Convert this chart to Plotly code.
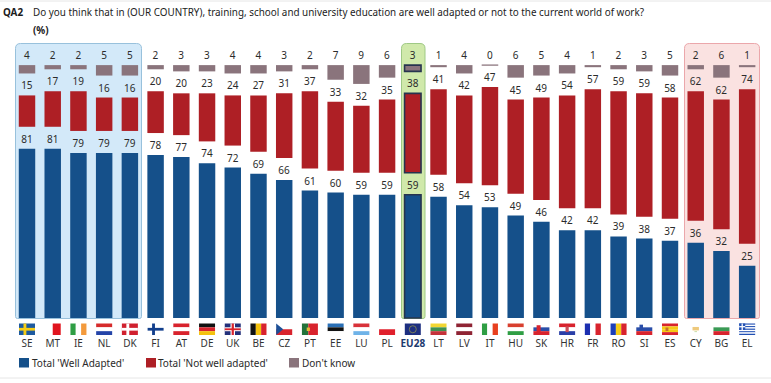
import plotly.graph_objects as go

W, H = 771, 383

countries = ["SE","MT","IE","NL","DK","FI","AT","DE","UK","BE","CZ","PT","EE","LU","PL","EU28",
             "LT","LV","IT","HU","SK","HR","FR","RO","SI","ES","CY","BG","EL"]
well_adapted = [81,81,79,79,79,78,77,74,72,69,66,61,60,59,59,59,58,54,53,49,46,42,42,39,38,37,36,32,25]
not_well_adapted = [15,17,19,16,16,20,20,23,24,27,31,37,33,32,35,38,41,42,47,45,49,54,57,59,59,58,62,62,74]
dont_know = [4,2,2,5,5,2,3,3,4,4,3,2,7,9,6,3,1,4,0,6,5,4,1,2,3,5,2,6,1]
legend_names = ["Total 'Well Adapted'", "Total 'Not well adapted'", "Don't know"]

BLUE, RED, GREY = "#15508a", "#ae1f25", "#8a747c"
OUT = "#27344f"
FONT = "Noto Sans"
TXT = "#2b2b2b"

# layout scale
X0, STEP = 27.0, 25.72
Y0, PX = 318.0, 2.09
GAP = 10.5
xr = [-X0 / STEP, (W - X0) / STEP]
yr = [-(H - Y0) / PX, Y0 / PX]

def px(x): return x / W
def py(y): return 1 - y / H

eu = countries.index("EU28")
line_w = [1.6 if i == eu else 0 for i in range(len(countries))]
line_w_grey = [1.6 if i == eu else (0.8 if v == 0 else 0) for i, v in enumerate(dont_know)]
line_c = [OUT if i == eu else GREY for i in range(len(countries))]

base_red = [w + GAP for w in well_adapted]
base_grey = [100 + 2 * GAP - d for d in dont_know]

def trace(name, y, base, color, lw):
    return go.Bar(name=name, x=list(range(len(countries))), y=y, base=base,
                  marker=dict(color=color, line=dict(width=lw, color=line_c if color != BLUE and color != RED else OUT)),
                  text=[str(v) for v in y], textposition="outside", cliponaxis=False,
                  textfont=dict(family=FONT, size=10, color=TXT), hoverinfo="skip", showlegend=False)

fig = go.Figure([
    trace(legend_names[0], well_adapted, [0] * len(countries), BLUE, line_w),
    trace(legend_names[1], not_well_adapted, base_red, RED, line_w),
    trace(legend_names[2], dont_know, base_grey, GREY, line_w_grey),
])

shapes = []

def panel(x0, x1, y0, y1, fill, border, r=5):
    p = (f"M{px(x0+r)},{py(y0)} L{px(x1-r)},{py(y0)} Q{px(x1)},{py(y0)} {px(x1)},{py(y0+r)} "
         f"L{px(x1)},{py(y1-2)} Q{px(x1)},{py(y1)} {px(x1-2)},{py(y1)} L{px(x0+2)},{py(y1)} "
         f"Q{px(x0)},{py(y1)} {px(x0)},{py(y1-2)} L{px(x0)},{py(y0+r)} Q{px(x0)},{py(y0)} {px(x0+r)},{py(y0)} Z")
    shapes.append(dict(type="path", path=p, xref="paper", yref="paper", layer="below",
                       fillcolor=fill, line=dict(color=border, width=1)))

panel(15.5, 141.5, 43.5, 318.5, "#d3e9f9", "#98c1dc")
panel(401.5, 425, 43.5, 318.5, "#d0e9ab", "#9fc985")
panel(684.5, 759.5, 43.5, 318.5, "#fae2e1", "#eba7ab")

for yy in (1, 378):
    shapes.append(dict(type="line", xref="paper", yref="paper", x0=0, x1=1, y0=py(yy), y1=py(yy),
                       layer="below", line=dict(color="#e6e6e6", width=1)))

FW, FH, FT = 16.0, 11.5, 323.5

def r(i, a, b, c, d, col):
    cx = X0 + STEP * i
    shapes.append(dict(type="rect", xref="paper", yref="paper",
                       x0=px(cx - FW / 2 + a * FW), x1=px(cx - FW / 2 + c * FW),
                       y0=py(FT + b * FH), y1=py(FT + d * FH),
                       fillcolor=col, line=dict(width=0), layer="below"))

def hs(code, cols):
    i = countries.index(code); n = len(cols)
    for k, c in enumerate(cols): r(i, 0, k / n, 1, (k + 1) / n, c)

def vs(code, cols):
    i = countries.index(code); n = len(cols)
    for k, c in enumerate(cols): r(i, k / n, 0, (k + 1) / n, 1, c)

def cross(code, bg, col):
    i = countries.index(code)
    r(i, 0, 0, 1, 1, bg)
    r(i, 0.28, 0, 0.46, 1, col); r(i, 0, 0.38, 1, 0.62, col)

cross("SE", "#1d5aa0", "#f6cd17")
cross("FI", "#ffffff", "#123f8c")
cross("DK", "#d0202e", "#ffffff")
vs("MT", ["#ffffff", "#e0141e"])
vs("IE", ["#2f9e44", "#ffffff", "#f39a3c"])
hs("NL", ["#d62b2b", "#ffffff", "#2444a8"])
hs("AT", ["#d8232d", "#ffffff", "#d8232d"])
hs("DE", ["#111111", "#d8232d", "#f4c20d"])
i = countries.index("UK")
r(i, 0, 0, 1, 1, "#23307a"); r(i, 0, 0.33, 1, 0.67, "#ffffff"); r(i, 0.36, 0, 0.64, 1, "#ffffff")
r(i, 0, 0.42, 1, 0.58, "#d8232d"); r(i, 0.43, 0, 0.57, 1, "#d8232d")
vs("BE", ["#111111", "#f4c20d", "#d8232d"])
i = countries.index("CZ")
r(i, 0, 0, 1, 0.5, "#ffffff"); r(i, 0, 0.5, 1, 1, "#d8232d")
cx = X0 + STEP * i
shapes.append(dict(type="path", xref="paper", yref="paper", layer="below", fillcolor="#1d4f96", line=dict(width=0),
                   path=f"M{px(cx-8)},{py(FT)} L{px(cx-1)},{py(FT+FH/2)} L{px(cx-8)},{py(FT+FH)} Z"))
i = countries.index("PT")
r(i, 0, 0, 0.4, 1, "#22733a"); r(i, 0.4, 0, 1, 1, "#d8232d"); r(i, 0.3, 0.35, 0.5, 0.65, "#e5b93a")
hs("EE", ["#2a6fb5", "#111111", "#ffffff"])
hs("LU", ["#d8323a", "#ffffff", "#6fb3e8"])
hs("PL", ["#ffffff", "#e0202c"])
i = countries.index("EU28")
r(i, 0, 0, 1, 1, "#1d2f80")
cx = X0 + STEP * i
shapes.append(dict(type="circle", xref="paper", yref="paper", layer="below",
                   x0=px(cx - 3.5), x1=px(cx + 3.5), y0=py(FT + 2.2), y1=py(FT + FH - 2.2),
                   line=dict(color="#8b8f52", width=0.8)))
hs("LT", ["#f2d632", "#3f9150", "#c4323a"])
hs("LV", ["#8f2434", "#ffffff", "#8f2434"])
vs("IT", ["#2f9e44", "#ffffff", "#e8401f"])
hs("HU", ["#d8402f", "#ffffff", "#2f9e44"])
hs("SK", ["#ffffff", "#2a4ea8", "#d8232d"])
i = countries.index("SK"); r(i, 0.2, 0.15, 0.45, 0.8, "#d8232d")
hs("HR", ["#d8232d", "#ffffff", "#2a3fa8"])
i = countries.index("HR"); r(i, 0.4, 0.25, 0.6, 0.75, "#c9505a")
vs("FR", ["#1c2fb0", "#ffffff", "#d8232d"])
vs("RO", ["#1c3fb8", "#f6cd17", "#d8232d"])
hs("SI", ["#ffffff", "#2a4ea8", "#d8232d"])
i = countries.index("SI"); r(i, 0.2, 0.1, 0.42, 0.55, "#2a4ea8")
hs("ES", ["#d8232d", "#f6c915", "#f6c915", "#d8232d"])
i = countries.index("ES"); r(i, 0.22, 0.35, 0.4, 0.65, "#c9702a")
i = countries.index("CY"); r(i, 0.3, 0.3, 0.7, 0.6, "#eec97c"); r(i, 0.42, 0.65, 0.58, 0.75, "#cfe0b0")
hs("BG", ["#ffffff", "#3a9a55", "#d8232d"])
i = countries.index("EL")
for k in range(9):
    r(i, 0, k / 9, 1, (k + 1) / 9, "#2150b4" if k % 2 == 0 else "#ffffff")
r(i, 0, 0, 0.38, 5 / 9, "#2150b4"); r(i, 0, 2 / 9, 0.38, 3 / 9, "#ffffff"); r(i, 0.15, 0, 0.23, 5 / 9, "#ffffff")

def note(x, y, text, size=9.9, bold=False, color="#1c1c1c"):
    return dict(xref="paper", yref="paper", x=px(x), y=py(y), xanchor="left", yanchor="middle",
                showarrow=False, text=f"<b>{text}</b>" if bold else text, borderpad=0, borderwidth=0,
                font=dict(family=FONT, size=size, color=color))

annotations = [
    note(3, 12, "QA2", bold=True),
    note(33, 12, "Do you think that in (OUR COUNTRY), training, school and university education are well adapted or not to the current world of work?"),
    note(33, 30, "(%)", bold=True),
]

# legend row
for name, col, sx, tx in zip(legend_names, (BLUE, RED, GREY), (19, 146, 289), (32, 158, 302)):
    shapes.append(dict(type="rect", xref="paper", yref="paper", x0=px(sx), x1=px(sx + 10),
                       y0=py(358), y1=py(367.5), fillcolor=col, line=dict(width=0), layer="below"))
    annotations.append(note(tx, 363, name, size=10, color="#2a2a2a"))

ticktext = [f'<span style="color:#1d3a6e"><b>{c}</b></span>' if c == "EU28" else c for c in countries]

fig.update_layout(
    width=W, height=H, margin=dict(l=0, r=0, t=0, b=0),
    paper_bgcolor="white", plot_bgcolor="rgba(0,0,0,0)",
    barmode="overlay", bargap=0.36, shapes=shapes, annotations=annotations,
    xaxis=dict(range=xr, tickvals=list(range(len(countries))), ticktext=ticktext,
               showgrid=False, zeroline=False, showline=False, ticks="", anchor="free", position=py(336),
               tickangle=0, tickfont=dict(family=FONT, size=10, color="#333333"), fixedrange=True),
    yaxis=dict(range=yr, visible=False, fixedrange=True),
    showlegend=False,
)

fig.write_html("out.html", config={"displayModeBar": False},
               post_script="document.body.style.margin='0';")
